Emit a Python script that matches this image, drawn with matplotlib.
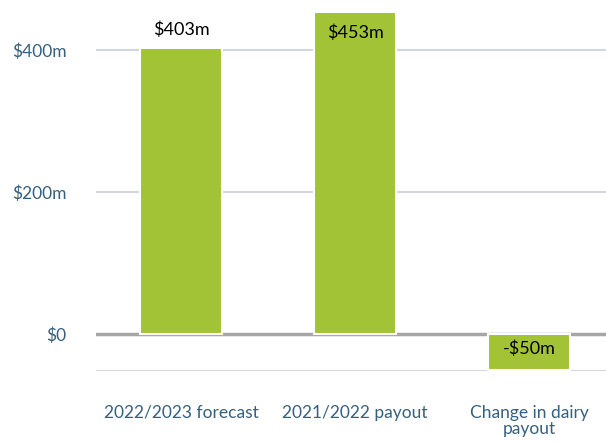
import matplotlib.pyplot as plt

# Dados
categorias = ['2022/2023 forecast', '2021/2022 payout', 'Change in dairy\npayout']
valores = [403, 453, -50]
rotulos = ['$403m', '$453m', '-$50m']
ticks_y = [0, 200, 400]
ticks_y_rotulos = ['$0', '$200m', '$400m']

cor_barra = '#a2c336'
cor_texto = '#36607f'

plt.rcParams['font.family'] = ['Lato', 'DejaVu Sans']

fig = plt.figure(figsize=(6.06, 4.44), dpi=100)
ax = fig.add_axes([0.158, 0.164, 0.842, 0.836])

pos = range(len(categorias))
barras = ax.bar(pos, valores, 0.47, color=cor_barra, edgecolor='white', linewidth=1.5, zorder=3)

ax.set_xlim(-0.49, 2.44)
ax.set_ylim(-52, 470)

# linhas de grade
for y in [200, 400, -52]:
    ax.axhline(y, color='#d3d7dd', linewidth=1.5, zorder=1)
ax.axhline(0, color='#a6a6a6', linewidth=2.5, zorder=2)

# rótulos das barras
for barra, v, txt in zip(barras, valores, rotulos):
    x = barra.get_x() + barra.get_width() / 2
    if v == max(valores):
        ax.text(x, v - 17, txt, ha='center', va='top', fontsize=13, color='black', zorder=4)
    elif v < 0:
        ax.text(x, -9, txt, ha='center', va='top', fontsize=13, color='black', zorder=4)
    else:
        ax.text(x, v + 14, txt, ha='center', va='bottom', fontsize=13, color='black', zorder=4)

ax.set_yticks(ticks_y)
ax.set_yticklabels(ticks_y_rotulos, fontsize=12.5, color=cor_texto)
ax.set_xticks(list(pos))
ax.set_xticklabels(categorias, fontsize=12.5, color=cor_texto, linespacing=1.05)
ax.tick_params(axis='y', length=0, pad=21)
ax.tick_params(axis='x', length=0, pad=24)
for s in ax.spines.values():
    s.set_visible(False)

fig.savefig('out.png', dpi=100)
